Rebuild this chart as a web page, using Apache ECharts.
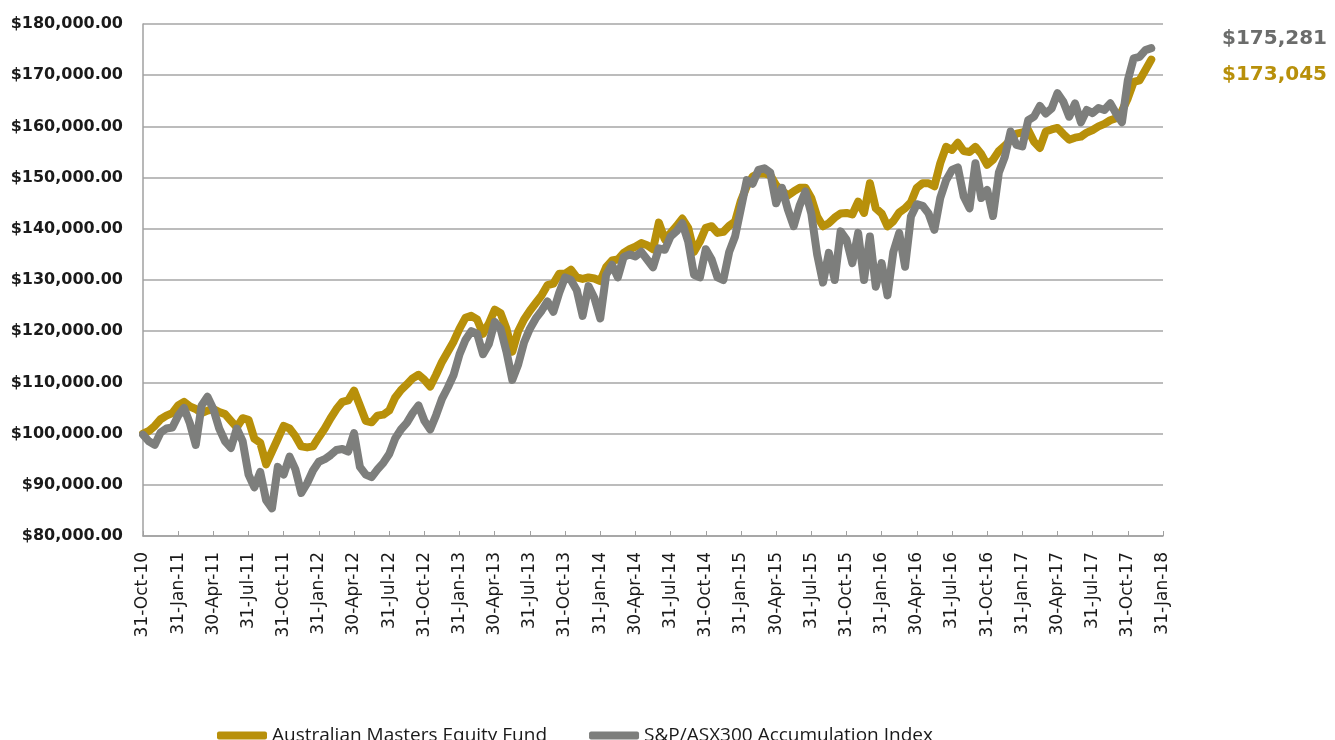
<!DOCTYPE html>
<html>
<head>
<meta charset="utf-8">
<script src="https://cdn.jsdelivr.net/npm/echarts@6/dist/echarts.min.js"></script>
<style>
html,body{margin:0;padding:0;background:#fff;}
#chart{width:1335px;height:740px;}
</style>
</head>
<body>
<div id="chart"></div>
<script>
var tickLabels = ['31-Oct-10','31-Jan-11','30-Apr-11','31-Jul-11','31-Oct-11','31-Jan-12','30-Apr-12','31-Jul-12',
	'31-Oct-12','31-Jan-13','30-Apr-13','31-Jul-13','31-Oct-13','31-Jan-14','30-Apr-14','31-Jul-14','31-Oct-14',
	'31-Jan-15','30-Apr-15','31-Jul-15','31-Oct-15','31-Jan-16','30-Apr-16','31-Jul-16','31-Oct-16','31-Jan-17',
	'30-Apr-17','31-Jul-17','31-Oct-17','31-Jan-18'];
var fundName = 'Australian Masters Equity Fund';
var indexName = 'S&P/ASX300 Accumulation Index';
// readings in $ thousands, one every half month from 31-Oct-10
var fund = [100.0,100.5,101.5,102.8,103.5,104.0,105.5,106.2,105.3,104.8,104.0,104.5,104.8,104.2,103.8,102.5,101.2,103.0,102.7,99.0,
	98.2,94.0,96.5,99.0,101.5,101.0,99.5,97.5,97.3,97.5,99.3,101.0,103.0,104.8,106.2,106.5,108.4,105.5,102.5,102.2,
	103.5,103.7,104.5,107.0,108.5,109.6,110.8,111.5,110.5,109.2,111.5,114.0,116.0,118.0,120.5,122.6,123.0,122.3,119.5,121.5,
	124.2,123.5,120.5,116.0,120.0,122.3,124.0,125.5,127.0,129.0,129.3,131.2,131.2,132.0,130.5,130.2,130.5,130.3,129.8,132.5,
	133.8,134.0,135.3,136.0,136.5,137.2,136.8,136.0,141.2,138.0,139.2,140.5,142.0,140.2,135.5,137.5,140.2,140.5,139.2,139.4,
	140.6,141.4,145.5,148.3,150.2,150.8,150.8,150.5,148.5,147.5,146.5,147.3,148.0,148.0,146.0,142.4,140.5,141.1,142.2,143.0,
	143.1,142.8,145.3,143.1,148.9,144.0,143.0,140.5,141.5,143.2,144.0,145.2,148.0,148.9,148.9,148.3,152.8,156.0,155.4,156.8,
	155.2,155.0,156.0,154.6,152.5,153.5,155.2,156.2,157.3,158.6,158.8,159.3,157.0,155.8,159.0,159.4,159.7,158.5,157.4,157.8,
	158.0,158.8,159.3,160.0,160.5,161.2,161.6,163.0,165.5,168.7,169.0,171.0,173.045];
var asx300 = [99.8,98.5,97.8,100.2,101.0,101.2,103.5,105.0,102.0,97.8,105.5,107.2,104.8,101.0,98.5,97.2,101.0,98.5,92.0,89.5,
	92.5,87.0,85.4,93.5,92.0,95.5,93.0,88.4,90.3,92.8,94.5,95.0,95.8,96.8,97.0,96.5,100.1,93.5,92.0,91.5,
	93.0,94.3,96.0,99.0,100.8,102.1,104.0,105.5,102.5,100.8,103.6,106.8,109.0,111.5,115.5,118.3,120.0,119.5,115.5,117.5,
	121.8,120.5,116.0,110.5,113.5,117.8,120.5,122.5,124.0,125.8,123.8,127.5,130.5,130.0,128.0,123.0,128.8,126.5,122.5,131.0,
	133.0,130.5,134.5,135.0,134.6,135.5,134.0,132.5,136.2,135.9,138.5,139.5,141.1,137.5,131.0,130.5,136.0,134.0,130.5,130.0,
	135.5,138.5,144.0,149.5,148.8,151.5,151.8,151.0,145.0,148.0,143.8,140.5,144.5,147.3,143.0,135.0,129.5,135.3,130.0,139.5,
	137.9,133.3,139.2,130.0,138.5,128.7,133.3,127.0,135.5,139.2,132.6,142.4,144.8,144.5,143.0,139.8,146.0,149.5,151.5,152.0,
	146.3,144.0,152.8,146.0,147.6,142.5,151.0,154.0,159.0,156.4,156.1,161.2,161.9,164.0,162.5,163.5,166.5,164.8,161.9,164.5,
	160.8,163.2,162.6,163.6,163.2,164.5,162.5,160.8,169.0,173.3,173.6,174.9,175.281];
var pointsPerQuarter = 6;

var gold = '#b8900a';
var grey = '#7d7e7c';

function toPoints(arr) {
	return arr.map(function (v, i) { return [i / pointsPerQuarter, v * 1000]; });
}
function money(v) {
	return '$' + Math.round(v * 1000).toLocaleString('en-US');
}

var myChart = echarts.init(document.getElementById('chart'));
var option = {
	animation: false,
	backgroundColor: '#fff',
	grid: {left: 143, right: 172, top: 24, bottom: 204},
	legend: {
		left: 212,
		top: 721,
		itemWidth: 50,
		itemHeight: 8,
		itemGap: 42,
		icon: 'roundRect',
		textStyle: {fontFamily: 'Open Sans', fontSize: 19, color: '#1a1a1a'},
		data: [fundName, indexName]
	},
	xAxis: {
		type: 'value',
		min: 0,
		max: tickLabels.length - 1,
		interval: 1,
		axisLine: {lineStyle: {color: '#a0a0a0', width: 1.5}},
		axisTick: {inside: true, length: 5, lineStyle: {color: '#a0a0a0'}},
		splitLine: {show: false},
		axisLabel: {
			rotate: 90,
			margin: 16,
			fontFamily: 'DejaVu Sans',
			fontSize: 17,
			color: '#1a1a1a',
			formatter: function (v) { return tickLabels[v] || ''; }
		}
	},
	yAxis: {
		type: 'value',
		min: 80000,
		max: 180000,
		interval: 10000,
		axisLine: {show: true, lineStyle: {color: '#a0a0a0', width: 1.5}},
		axisTick: {show: false},
		splitLine: {lineStyle: {color: '#a6a6a6', width: 1.5}},
		axisLabel: {
			margin: 20,
			fontFamily: 'DejaVu Sans',
			fontWeight: 'bold',
			fontSize: 16,
			color: '#1a1a1a',
			formatter: function (v) {
				return '$' + v.toLocaleString('en-US', {minimumFractionDigits: 2, maximumFractionDigits: 2});
			}
		}
	},
	graphic: [
		{type: 'text', left: 1222, top: 29, style: {text: money(asx300[asx300.length - 1]), font: 'bold 20px "DejaVu Sans"', fill: '#6b6c6b'}},
		{type: 'text', left: 1222, top: 65, style: {text: money(fund[fund.length - 1]), font: 'bold 20px "DejaVu Sans"', fill: gold}}
	],
	series: [
		{
			name: fundName,
			type: 'line',
			showSymbol: false,
			color: gold,
			lineStyle: {width: 8, color: gold, cap: 'round', join: 'round'},
			data: toPoints(fund)
		},
		{
			name: indexName,
			type: 'line',
			showSymbol: false,
			color: grey,
			lineStyle: {width: 8, color: grey, cap: 'round', join: 'round'},
			data: toPoints(asx300)
		}
	]
};
myChart.setOption(option);
</script>
</body>
</html>
